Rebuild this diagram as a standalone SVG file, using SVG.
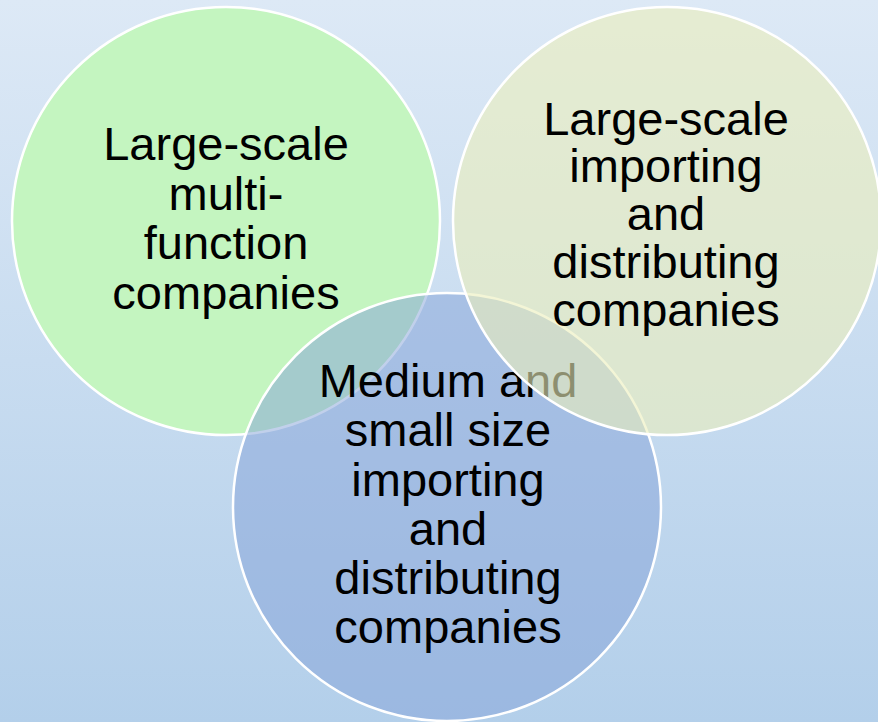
<svg xmlns="http://www.w3.org/2000/svg" width="878" height="722" viewBox="0 0 878 722">
<defs>
<linearGradient id="bg" x1="0" y1="0" x2="0" y2="1">
<stop offset="0" stop-color="#dde9f6"/>
<stop offset="1" stop-color="#b3cfea"/>
</linearGradient>
</defs>
<style>
.c{stroke:#ffffff;stroke-width:2.5}
.t{font-family:"Liberation Sans",Arial,sans-serif;font-size:47px;fill:#000000;text-anchor:middle}
</style>
<rect x="0" y="0" width="878" height="722" fill="url(#bg)"/>
<g id="node-green">
<circle class="c" cx="226" cy="221" r="214" fill="#c4f5c0"/>
<text class="t"><tspan x="226" y="160">Large-scale</tspan><tspan x="226" y="210">multi-</tspan><tspan x="226" y="259">function</tspan><tspan x="226" y="309">companies</tspan></text>
</g>
<g id="node-blue">
<circle class="c" cx="447" cy="507" r="214" fill="#83a2d7" fill-opacity="0.5"/>
<text class="t"><tspan x="448" y="397">Medium and</tspan><tspan x="448" y="446">small size</tspan><tspan x="448" y="496">importing</tspan><tspan x="448" y="545">and</tspan><tspan x="448" y="594">distributing</tspan><tspan x="448" y="643">companies</tspan></text>
</g>
<g id="node-yellow">
<circle class="c" cx="667" cy="221" r="214" fill="#ebeebb" fill-opacity="0.6"/>
<text class="t"><tspan x="666" y="135">Large-scale</tspan><tspan x="666" y="182">importing</tspan><tspan x="666" y="230">and</tspan><tspan x="666" y="278">distributing</tspan><tspan x="666" y="326">companies</tspan></text>
</g>
<g id="connectors"/>
</svg>
